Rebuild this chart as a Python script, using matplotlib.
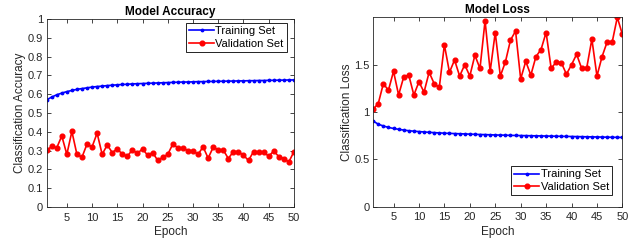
import numpy as np
import matplotlib
matplotlib.use("Agg")
import matplotlib.pyplot as plt

plt.rcParams['font.family'] = ['Liberation Sans', 'DejaVu Sans']

epochs = np.arange(1, 51)

train_acc = [0.570, 0.585, 0.597, 0.606, 0.614, 0.620, 0.626, 0.630, 0.634, 0.638,
             0.641, 0.643, 0.646, 0.648, 0.650, 0.652, 0.653, 0.655, 0.656, 0.657,
             0.658, 0.659, 0.660, 0.661, 0.662, 0.663, 0.664, 0.665, 0.665, 0.666,
             0.667, 0.667, 0.668, 0.668, 0.669, 0.669, 0.670, 0.670, 0.671, 0.671,
             0.672, 0.672, 0.673, 0.673, 0.674, 0.674, 0.675, 0.675, 0.676, 0.676]
val_acc = [0.302, 0.322, 0.315, 0.378, 0.280, 0.402, 0.280, 0.265, 0.335, 0.320,
           0.393, 0.280, 0.330, 0.290, 0.310, 0.280, 0.270, 0.305, 0.285, 0.310,
           0.275, 0.290, 0.248, 0.265, 0.280, 0.335, 0.315, 0.315, 0.300, 0.300,
           0.280, 0.320, 0.260, 0.318, 0.305, 0.303, 0.258, 0.295, 0.295, 0.275,
           0.248, 0.295, 0.292, 0.292, 0.270, 0.298, 0.268, 0.258, 0.240, 0.295]

train_loss = [0.905, 0.872, 0.853, 0.838, 0.827, 0.818, 0.810, 0.803, 0.798, 0.794,
              0.790, 0.786, 0.783, 0.780, 0.777, 0.775, 0.773, 0.771, 0.769, 0.767,
              0.765, 0.763, 0.762, 0.760, 0.758, 0.757, 0.756, 0.754, 0.753, 0.752,
              0.751, 0.750, 0.749, 0.748, 0.747, 0.746, 0.745, 0.744, 0.743, 0.742,
              0.741, 0.740, 0.739, 0.738, 0.737, 0.736, 0.735, 0.734, 0.733, 0.732]
val_loss = [1.03, 1.09, 1.30, 1.23, 1.43, 1.18, 1.37, 1.39, 1.18, 1.32,
            1.21, 1.42, 1.30, 1.26, 1.71, 1.42, 1.55, 1.38, 1.50, 1.38,
            1.60, 1.46, 1.965, 1.43, 1.84, 1.38, 1.53, 1.76, 1.855, 1.35,
            1.535, 1.39, 1.585, 1.66, 1.84, 1.46, 1.53, 1.52, 1.40, 1.50,
            1.61, 1.46, 1.47, 1.77, 1.38, 1.585, 1.74, 1.74, 2.00, 1.82]

fig = plt.figure(figsize=(6.39, 2.41), dpi=100)
ax1 = fig.add_axes([0.073, 0.141, 0.387, 0.780])
ax2 = fig.add_axes([0.584, 0.142, 0.390, 0.786])

grey = '#262626'

def style(ax):
    ax.set_xlim(1, 50)
    ax.set_xticks(np.arange(5, 51, 5))
    ax.tick_params(direction='in', top=True, right=True, length=3, width=0.6,
                   labelsize=8, colors=grey, pad=2.5)
    ax.tick_params(axis='x', pad=4)
    for s in ax.spines.values():
        s.set_linewidth(0.6)
        s.set_color(grey)
    ax.set_xlabel('Epoch', fontsize=8.5, color=grey, labelpad=2.5)

panels = [
    (ax1, train_acc, val_acc, 'Model Accuracy', 'Classification Accuracy',
     'upper right', (0.972, 0.979)),
    (ax2, train_loss, val_loss, 'Model Loss', 'Classification Loss',
     'lower right', (0.959, 0.062)),
]

for ax, tr, va, title, ylab, loc, anchor in panels:
    ax.plot(epochs, tr, '.-', color='#0000ff', lw=1.2, ms=3.5, label='Training Set')
    ax.plot(epochs, va, 'o-', color='#ff0000', lw=1.2, ms=3.4, label='Validation Set')
    style(ax)
    ax.set_title(title, fontsize=8.5, fontweight='bold', pad=3)
    ax.set_ylabel(ylab, fontsize=8.5, color=grey, labelpad=1)
    leg = ax.legend(loc=loc, bbox_to_anchor=anchor, fontsize=8, frameon=True,
                    fancybox=False, borderpad=0.3, handlelength=2.2,
                    handletextpad=0.15, labelspacing=0.2, borderaxespad=0)
    leg.get_frame().set_edgecolor('black')
    leg.get_frame().set_linewidth(0.6)
    leg.get_frame().set_alpha(1)

ax1.set_ylim(0, 1)
ax1.set_yticks(np.arange(0, 1.01, 0.1))
ax1.set_yticklabels(['0', '0.1', '0.2', '0.3', '0.4', '0.5', '0.6', '0.7', '0.8', '0.9', '1'])
ax2.set_ylim(0, 2)
ax2.set_yticks([0, 0.5, 1, 1.5])
ax2.set_yticklabels(['0', '0.5', '1', '1.5'])

fig.savefig('out.png', dpi=100)
